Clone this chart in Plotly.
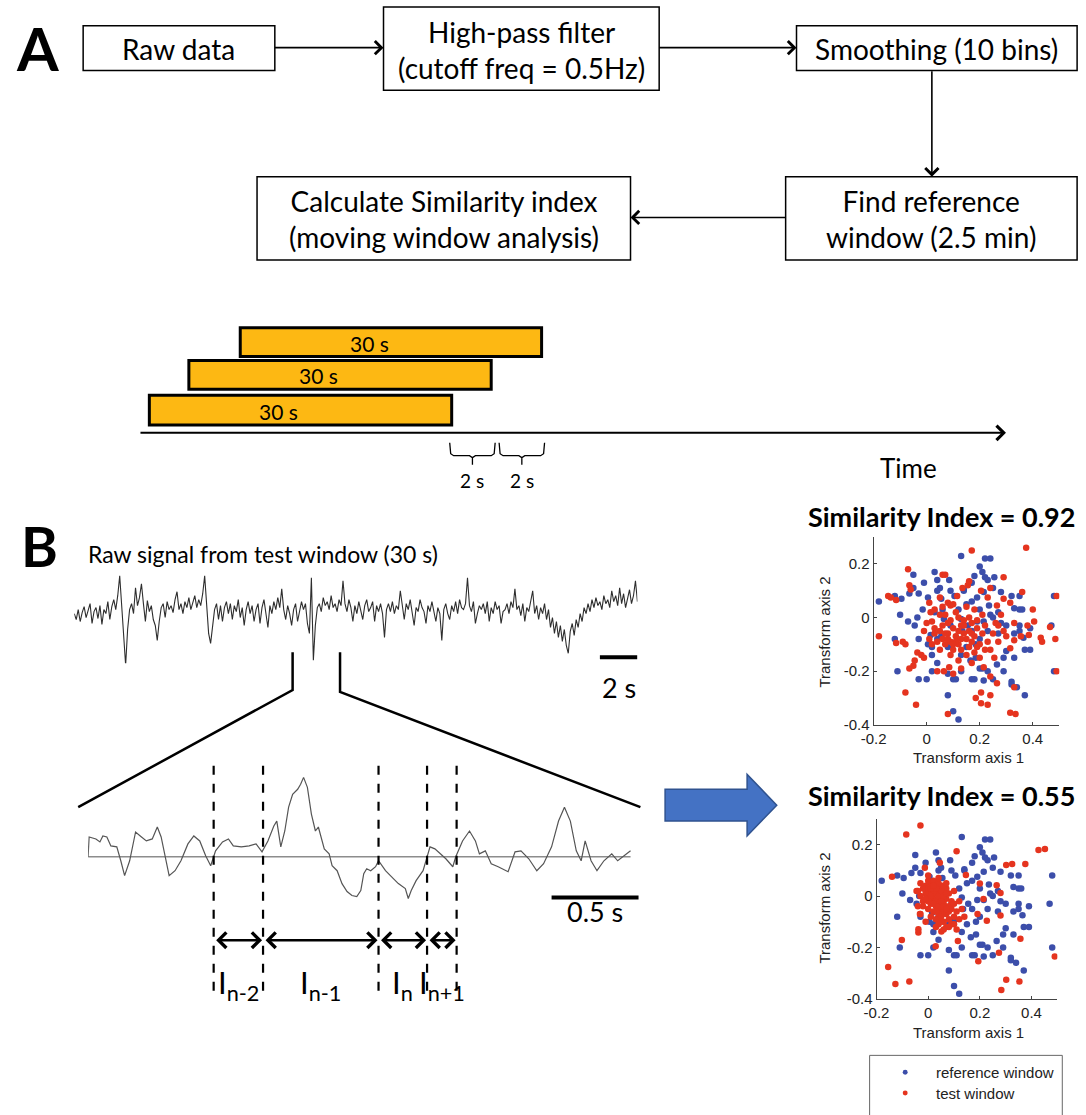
import plotly.graph_objects as go

W, H = 1086, 1115


def PX(x):
    return x / W


def PY(y):
    return 1 - y / H


# ---------------- DATA ----------------
raw_duration_s = 30
raw_signal = [
    2, -4, 6, -6, 3, 9, -2, 5, 12, -8,
    4, 8, -3, 10, -9, 6, 2, 14, -4, 9,
    16, 6, 20, 40, 8, -12, -50, -14, 6, 12,
    2, 28, 10, 18, 32, 12, -6, 15, 4, 10,
    -4, -10, -25, -6, 8, 12, -2, 14, 6, 10,
    3, 16, 24, 6, 12, 2, 14, 8, 18, 6,
    12, 20, 8, 16, 10, 22, 40, 14, -18, -28,
    -8, 6, 12, -4, 10, -6, 8, 14, 2, 12,
    -4, 10, 4, 16, -2, 8, -10, 6, 14, 2,
    10, -6, 6, 12, -8, 8, 16, 4, -12, 10,
    2, 14, 6, 18, 8, 27, 6, -4, 10, 2,
    -10, 6, 12, -6, 4, 14, 6, 12, -8, -18,
    38, -45, -10, 8, 12, 4, 18, 10, 14, 6,
    20, 8, 12, 4, 16, 10, 35, 12, 4, 16,
    8, -6, 10, 2, 14, 6, -4, 10, 16, 4,
    8, 14, -6, 10, 4, 12, 2, -22, 6, 12,
    4, 14, 2, 10, 6, 25, 8, -4, 12, 6,
    16, 2, -10, 8, 4, 16, 8, 4, -8, 10,
    4, 14, 2, -6, 8, 2, -25, 6, 12, 2,
    -4, 10, 4, 14, 2, 16, 8, 6, 12, 38,
    10, 4, 14, -8, 2, 10, 6, 12, 2, 14,
    -6, 8, 2, 14, 6, 10, -8, 4, 6, 12,
    2, 14, 8, 27, 6, 10, 0, 12, -6, 8,
    4, 14, 25, 2, 10, -4, 8, 2, 12, -4,
    6, -12, -2, -18, -6, -22, -10, -26, -14, -30,
    -38, -16, -8, -20, -4, -12, 2, -6, 8, 2,
    12, 4, 16, 8, 18, 10, 14, 6, 20, 12,
    16, 8, 25, 14, 20, 10, 28, 12, 22, 8,
    18, 26, 12, 20, 35, 14,
]

zoom_t = [0.000, 0.006, 0.045, 0.068, 0.085, 0.108, 0.131, 0.165, 0.188, 0.210,
          0.239, 0.273, 0.307, 0.335, 0.369, 0.398, 0.420, 0.443, 0.466, 0.500,
          0.534, 0.574, 0.608, 0.642, 0.676, 0.705, 0.733, 0.773, 0.807, 0.835,
          0.881, 0.926, 0.966, 1.000, 1.034, 1.068, 1.085, 1.108, 1.131, 1.153,
          1.176, 1.205, 1.222, 1.239, 1.261, 1.284, 1.307, 1.324, 1.358, 1.386,
          1.403, 1.432, 1.460, 1.489, 1.517, 1.545, 1.568, 1.585, 1.602, 1.625,
          1.653, 1.670, 1.682, 1.710, 1.744, 1.784, 1.824, 1.841, 1.858, 1.886,
          1.926, 1.943, 1.966, 1.994, 2.028, 2.057, 2.097, 2.114, 2.153, 2.193,
          2.227, 2.250, 2.284, 2.318, 2.358, 2.415, 2.455, 2.489, 2.534, 2.580,
          2.619, 2.665, 2.705, 2.739, 2.773, 2.807, 2.835, 2.858, 2.892, 2.926,
          2.966, 3.011, 3.045, 3.080, 3.119]
zoom_v = [0, 20, 18, 15, 21, 20, 11, 10, -4, -19,
          -4, 25, 20, 16, 18, 30, 20, 1, -19, -14,
          -4, 13, 21, 16, 1, -9, 6, 15, 18, 11,
          10, 11, 13, 5, 16, 31, 36, 10, 26, 50,
          63, 68, 73, 80, 70, 43, 26, 30, 8, 3,
          -9, -14, -27, -35, -39, -40, -34, -17, -12, -14,
          -10, -4, -7, -14, -20, -27, -32, -42, -34, -24,
          -14, -4, 10, 8, 3, -2, -10, 0, 16, 26,
          16, 3, 6, -7, -10, -15, 5, 6, -2, -14,
          -7, 10, 36, 50, 36, 6, -4, 16, -4, -14,
          -4, 3, -4, 1, 6]

boundary_t = [0.722, 1.006, 1.670, 1.949, 2.119]
interval_subs = ["n-2", "n-1", "n", "n+1"]

ref_x = [-0.18, -0.12, -0.10, -0.12, -0.11, -0.05, -0.05, -0.03, -0.03, -0.03, 0.00, 0.03, 0.04, 0.05,
         0.09, 0.13, 0.14, 0.17, 0.21, 0.22, 0.23, 0.22, 0.24, 0.32, 0.35, 0.35, 0.36, 0.27, 0.24, 0.48,
         0.47, 0.39, 0.35, 0.37, 0.39, 0.48, 0.02, 0.04, 0.08, 0.10, 0.12, 0.10, 0.11, 0.17, 0.18, 0.20,
         0.21, 0.29, 0.29, 0.32, 0.32, 0.34, 0.37, 0.25,
         0.03, 0.06, 0.12, 0.15, 0.17, 0.19, 0.20, 0.235, 0.25, 0.28, 0.30, 0.33, 0.27, 0.23, 0.20, 0.185,
         0.15, 0.13, 0.165, 0.185, 0.10, 0.08, 0.055, 0.015, 0.005, 0.02, 0.04, 0.065, 0.09, 0.13, 0.155,
         0.135, -0.045, -0.07, -0.015, -0.035, -0.095, 0.215, 0.25, 0.28, 0.33, 0.35, 0.365, 0.30, 0.33,
         0.265, 0.23, 0.215, 0.13, 0.08, 0.02, 0.19, 0.17, 0.215, 0.105, 0.14, 0.055, 0.005, 0.04, 0.085,
         0.18, 0.20, 0.255, -0.01, -0.065]
ref_y = [0.06, 0.08, 0.01, -0.08, -0.20, 0.16, 0.11, 0.09, -0.08, -0.23, -0.23, 0.17, 0.10, 0.11,
         0.10, 0.23, 0.10, 0.13, 0.17, 0.15, 0.14, 0.22, 0.22, 0.08, 0.08, 0.03, 0.03, 0.02, 0.01, 0.08,
         -0.03, -0.04, -0.05, -0.12, -0.12, -0.20, -0.11, -0.08, -0.29, -0.35, -0.38, -0.23, -0.23, -0.23,
         -0.23, -0.19, -0.19, -0.15, -0.20, -0.24, -0.25, -0.26, -0.29, -0.23,
         0.02, 0.03, 0.03, 0.05, 0.06, 0.075, 0.03, 0.045, 0.0, -0.02, -0.03, -0.06, -0.06, -0.05, -0.08,
         -0.10, -0.11, -0.14, -0.16, -0.15, -0.095, -0.11, -0.07, -0.065, -0.10, -0.14, -0.17, -0.005,
         -0.03, -0.005, -0.03, -0.05, -0.03, -0.015, 0.03, 0.0, 0.07, 0.095, 0.11, 0.095, 0.035, -0.03,
         -0.075, -0.125, -0.15, -0.175, -0.20, -0.235, -0.20, -0.21, -0.20, -0.015, -0.05, -0.015, 0.08,
         0.105, 0.07, 0.075, 0.14, 0.14, 0.155, 0.19, 0.15, 0.13, 0.09]

test1_x = [-0.18, -0.145, -0.135, -0.115, -0.07, -0.065, -0.06, -0.09, -0.08, -0.115, -0.08, -0.04,
           -0.05, -0.065, -0.045, -0.035, -0.02, -0.01, 0.01, 0.015, 0.02, 0.03, 0.06, 0.07, 0.05, 0.08,
           0.09, 0.115, 0.135, 0.155, 0.16, 0.17, 0.205, 0.23, 0.24, 0.265, 0.29, 0.29, 0.315, 0.36,
           0.375, 0.40, 0.405, 0.43, 0.435, 0.465, 0.485, 0.49, 0.49,
           0.04, 0.065, 0.085, 0.10, 0.08, 0.185, 0.205, 0.23, 0.24, 0.205, 0.315, 0.335, 0.33, 0.265,
           0.24, 0.215, 0.255, 0.315, 0.33, 0.355, 0.385, 0.38, 0.29, 0.27, 0.33,
           0.05, 0.06, 0.07, 0.08, 0.09, 0.10, 0.11, 0.12, 0.13, 0.14, 0.15, 0.16, 0.17, 0.18, 0.19, 0.20,
           0.21, 0.10, 0.08, 0.06, 0.04, 0.03, 0.12, 0.14, 0.16, 0.18, 0.15, 0.12, 0.09, 0.05, 0.02, 0.11,
           0.07, 0.13, 0.17, 0.19, 0.22, 0.23, 0.24, 0.20, 0.17, 0.13, 0.21, 0.18, 0.15, 0.10, 0.06, 0.03,
           0.00, -0.01, 0.01, 0.25, 0.27, 0.26, 0.28, 0.30, 0.22, 0.19, 0.11, 0.08, 0.14, 0.16, 0.09, 0.05,
           0.12, 0.17, 0.07, 0.13, 0.10]
test1_y = [-0.07, 0.08, 0.075, 0.065, 0.18, 0.12, 0.105, -0.09, -0.10, -0.095, -0.28, -0.325,
           -0.18, -0.19, -0.16, -0.13, -0.14, -0.15, 0.055, 0.02, -0.015, -0.04, 0.16, 0.16, 0.075, 0.055,
           0.045, 0.08, 0.11, 0.12, 0.135, 0.25, 0.10, 0.075, 0.11, 0.045, 0.15, 0.07, 0.055, 0.095,
           0.26, 0.03, -0.015, -0.075, -0.09, -0.035, -0.08, 0.08, -0.20,
           -0.20, -0.20, -0.185, -0.21, -0.36, -0.30, -0.32, -0.325, -0.29, -0.28, -0.355, -0.36, -0.26,
           -0.245, -0.22, -0.185, -0.15, -0.115, -0.085, -0.07, -0.065, -0.03, -0.05, -0.03, -0.02,
           -0.05, -0.08, -0.10, -0.06, -0.09, -0.04, -0.07, -0.10, -0.03, -0.06, -0.08, -0.05, -0.02, -0.07,
           -0.04, -0.10, -0.06, -0.12, -0.02, -0.03, -0.09, -0.06, 0.00, -0.01, -0.11, -0.13, -0.14, -0.16,
           -0.14, -0.12, -0.10, 0.02, 0.01, -0.12, -0.09, -0.01, -0.03, -0.09, -0.12, -0.15, -0.17, -0.19,
           0.01, 0.03, 0.04, 0.05, 0.04, 0.03, -0.02, -0.05, -0.08, -0.06, -0.09, -0.02, 0.01, -0.07, -0.12,
           -0.11, -0.09, -0.08, -0.03, 0.00, -0.01, 0.01, -0.05, -0.06, -0.06, -0.08, -0.10]

test2_x = [-0.03, -0.085, 0.11, 0.045, -0.013, -0.14, 0.427, 0.452, 0.302, 0.325, 0.376, 0.265, 0.28,
           0.20, 0.146, 0.214, 0.28, 0.227, 0.191, 0.357, 0.49, 0.274, 0.194, 0.302, 0.283, 0.353, 0.115,
           0.029, -0.102, -0.155, -0.127, -0.073, -0.038, -0.038, -0.032, -0.045, 0.051,
           0.00, 0.01, 0.02, 0.03, 0.04, 0.05, 0.06, 0.02, 0.03, 0.04, 0.05, 0.06, 0.07, 0.01, 0.00, -0.01,
           -0.02, 0.03, 0.05, 0.07, 0.08, 0.06, 0.04, 0.02, 0.01, -0.01, 0.00, 0.02, 0.04, 0.08, 0.09, 0.07,
           0.05, 0.03, 0.06, 0.08, 0.10, 0.09, 0.07, 0.04, 0.01, -0.02, -0.03, -0.02, 0.00, 0.02, 0.03, 0.04,
           0.05, 0.06, 0.01, 0.02, 0.03, 0.04, 0.05, 0.06, 0.07, 0.08, 0.09, 0.10, 0.11, 0.10, 0.08, 0.12,
           0.00, -0.01, 0.01, 0.03, 0.05, 0.02, 0.06, 0.07, -0.04, -0.03, 0.00, 0.04, 0.07, 0.10, 0.12, 0.13,
           0.14, 0.11, 0.06, 0.03, -0.01, -0.03, -0.04]
test2_y = [0.275, 0.24, 0.175, 0.13, 0.11, 0.075, 0.18, 0.183, 0.121, 0.125, 0.125, 0.042, 0.012,
           0.049, 0.082, -0.011, -0.076, -0.096, -0.07, -0.166, -0.235, -0.221, -0.254, -0.326, -0.366,
           -0.333, -0.175, -0.195, -0.171, -0.276, -0.342, -0.333, -0.142, -0.129, -0.07, 0.02, -0.138,
           0.00, 0.02, -0.01, 0.01, -0.02, 0.00, -0.03, 0.03, -0.04, 0.03, -0.05, 0.02, -0.01, -0.03, -0.05,
           0.01, -0.02, 0.05, 0.04, 0.03, -0.04, -0.06, -0.07, -0.06, 0.05, 0.04, 0.06, 0.06, 0.05, 0.01,
           -0.02, -0.07, -0.08, -0.09, -0.10, -0.09, -0.08, -0.11, -0.12, -0.11, -0.08, 0.03, 0.00, -0.04,
           0.03, 0.01, -0.02, 0.00, 0.02, 0.00, 0.00, -0.03, 0.03, -0.04, -0.02, 0.04, 0.01, -0.06, -0.05,
           -0.03, -0.06, -0.11, -0.12, -0.09, -0.02, -0.01, 0.03, -0.06, -0.10, 0.04, -0.04, -0.05, 0.02,
           0.05, 0.08, 0.07, 0.05, 0.02, -0.02, -0.05, -0.08, -0.13, -0.13, -0.12, -0.10, -0.07, -0.04]

similarity_index = [0.92, 0.55]
legend_labels = ["reference window", "test window"]
flow_labels = ["Raw data", "High-pass filter<br>(cutoff freq = 0.5Hz)", "Smoothing (10 bins)",
               "Find reference<br>window (2.5 min)", "Calculate Similarity index<br>(moving window analysis)"]
window_labels = ["30 s", "30 s", "30 s"]
step_labels = ["2 s", "2 s"]

# ---------------- STYLE ----------------
FLOW_FONT = "Lato"
AX_FONT = "Liberation Sans"
BLUE = "#3C4EAA"
RED = "#E5341F"
ORANGE = "#FDB813"

fig = go.Figure()

raw_t = [i * raw_duration_s / (len(raw_signal) - 1) for i in range(len(raw_signal))]
fig.add_trace(go.Scatter(x=raw_t, y=raw_signal, mode="lines", line=dict(color="#2e2e2e", width=1.1),
                         xaxis="x", yaxis="y", hoverinfo="skip"))
fig.add_trace(go.Scatter(x=[zoom_t[0], zoom_t[-1]], y=[0, 0], mode="lines",
                         line=dict(color="#8c8c8c", width=1.5), xaxis="x2", yaxis="y2", hoverinfo="skip"))
fig.add_trace(go.Scatter(x=zoom_t, y=zoom_v, mode="lines", line=dict(color="#555555", width=1.2),
                         xaxis="x2", yaxis="y2", hoverinfo="skip"))

for k, (tx, ty) in enumerate([(test1_x, test1_y), (test2_x, test2_y)]):
    xa, ya = ("x3", "y3") if k == 0 else ("x4", "y4")
    fig.add_trace(go.Scatter(x=ref_x, y=ref_y, mode="markers", name=legend_labels[0],
                             marker=dict(color=BLUE, size=6.5), xaxis=xa, yaxis=ya))
    fig.add_trace(go.Scatter(x=tx, y=ty, mode="markers", name=legend_labels[1],
                             marker=dict(color=RED, size=6.5), xaxis=xa, yaxis=ya))

shapes = []
annotations = []


def path_str(pts, close=False):
    s = "M " + " L ".join(f"{PX(x):.5f},{PY(y):.5f}" for x, y in pts)
    return s + (" Z" if close else "")


def text(x, y, s, size, family=FLOW_FONT, xanchor="center", color="black", **kw):
    annotations.append(dict(x=PX(x), y=PY(y), xref="paper", yref="paper", text=s, showarrow=False,
                            xanchor=xanchor, yanchor="middle", font=dict(family=family, size=size, color=color),
                            **kw))


def arrow(x0, y0, x1, y1, width=1.6, head=4, size=1.6):
    annotations.append(dict(x=PX(x1), y=PY(y1), xref="paper", yref="paper", ax=x0 - x1, ay=y0 - y1,
                            axref="pixel", ayref="pixel", showarrow=True, arrowhead=head, arrowsize=size,
                            arrowwidth=width, arrowcolor="black", text=""))


def rect(x0, y0, x1, y1, lw=1.5, fill="white"):
    shapes.append(dict(type="rect", xref="paper", yref="paper", x0=PX(x0), x1=PX(x1), y0=PY(y1), y1=PY(y0),
                       line=dict(color="black", width=lw), fillcolor=fill, layer="below"))


# ---- Panel A: flowchart ----
text(25, 48, "<b>A</b>", 60)
boxes = [(71, 26, 265, 71), (375, 7, 654, 91), (793, 26, 1077, 71), (782, 178, 1077, 262), (247, 178, 625, 262)]
for (x0, y0, x1, y1), lab in zip(boxes, flow_labels):
    rect(x0, y0, x1, y1)
    text((x0 + x1) / 2, (y0 + y1) / 2 + 1, lab, 28)
arrow(265, 48, 375, 48)
arrow(654, 48, 793, 48)
arrow(930, 71, 930, 178)
arrow(782, 219, 625, 219)

# ---- moving windows ----
bars = [(230, 330, 535, 359), (178, 363, 484, 392), (138, 398, 444, 428)]
for (x0, y0, x1, y1), lab in zip(bars, window_labels):
    rect(x0, y0, x1, y1, lw=3, fill=ORANGE)
    text((x0 + x1) / 2 - 22, (y0 + y1) / 2 + 1, lab, 21)
arrow(138, 436, 1005, 436, width=2, head=4, size=1.4)
text(906, 471, "Time", 26)
for (bx0, bx1), lab in zip([(442, 488), (492, 538)], step_labels):
    mid = (bx0 + bx1) / 2
    pts = [(bx0, 446), (bx0 + 1, 457), (bx0 + 4, 459), (mid - 3, 459), (mid, 461), (mid, 468),
           (mid, 461), (mid + 3, 459), (bx1 - 4, 459), (bx1 - 1, 457), (bx1, 446)]
    shapes.append(dict(type="path", xref="paper", yref="paper", path=path_str(pts),
                       line=dict(color="black", width=1.3)))
    text(mid, 484, lab, 19)

# ---- Panel B ----
text(27, 549, "<b>B</b>", 56)
text(74, 558, "Raw signal from test window (30 s)", 23, xanchor="left")
# zoom lines
shapes.append(dict(type="path", xref="paper", yref="paper", path=path_str([(283, 657), (283, 695), (66, 813)]),
                   line=dict(color="black", width=2.5)))
shapes.append(dict(type="path", xref="paper", yref="paper", path=path_str([(331, 657), (331, 697), (635, 813)]),
                   line=dict(color="black", width=2.5)))
# scale bars
shapes.append(dict(type="line", xref="x", yref="paper", x0=28, x1=30, y0=PY(662), y1=PY(662),
                   line=dict(color="black", width=4)))
annotations.append(dict(x=29, y=PY(692), xref="x", yref="paper", text="2 s", showarrow=False,
                        font=dict(family=FLOW_FONT, size=27, color="black")))
shapes.append(dict(type="line", xref="x2", yref="paper", x0=2.665, x1=3.165, y0=PY(904), y1=PY(904),
                   line=dict(color="black", width=4)))
annotations.append(dict(x=2.915, y=PY(937), xref="x2", yref="paper", text="0.5 s", showarrow=False,
                        font=dict(family=FLOW_FONT, size=27, color="black")))
# interval boundaries
for t in boundary_t:
    shapes.append(dict(type="line", xref="x2", yref="paper", x0=t, x1=t, y0=PY(998), y1=PY(765),
                       line=dict(color="black", width=2.2, dash="dash")))
for i, sub in enumerate(interval_subs):
    a, b = boundary_t[i], boundary_t[i + 1]
    annotations.append(dict(x=b, y=PY(947), xref="x2", yref="paper", ax=a, ay=0, axref="x2", ayref="pixel",
                            showarrow=True, arrowhead=4, arrowside="end+start", arrowsize=1.2, arrowwidth=2.5,
                            arrowcolor="black", text="", standoff=1, startstandoff=1))
    annotations.append(dict(x=(a + b) / 2, y=PY(1015), xref="x2", yref="paper",
                            text=f"I<sub>{sub}</sub>", showarrow=False,
                            font=dict(family=FLOW_FONT, size=31, color="black")))

# big blue arrow
shapes.append(dict(type="path", xref="paper", yref="paper",
                   path=path_str([(660, 795), (743, 795), (743, 780), (773, 811), (743, 842), (743, 827), (660, 827)],
                                 close=True),
                   fillcolor="#4472C4", line=dict(color="#2F528F", width=1.5)))

# scatter titles and labels
for k, (ty, ly, lx) in enumerate([(520, 763, 637), (801, 1040, 915)]):
    text(940, ty, f"<b>Similarity Index = {similarity_index[k]:.2f}</b>", 27)
    text(967, ly, "Transform axis 1", 15, family=AX_FONT, color="#222")
    annotations.append(dict(x=PX(821), y=PY(lx), xref="paper", yref="paper", text="Transform axis 2",
                            showarrow=False, textangle=-90, xanchor="center", yanchor="middle",
                            font=dict(family=AX_FONT, size=15, color="#222")))

# legend
shapes.append(dict(type="rect", xref="paper", yref="paper", x0=PX(867), x1=PX(1062), y0=PY(1125), y1=PY(1063),
                   line=dict(color="#666", width=1), fillcolor="white"))
for j, (c, yy) in enumerate([(BLUE, 1080), (RED, 1101)]):
    shapes.append(dict(type="circle", xref="paper", yref="paper", x0=PX(900.5), x1=PX(905.5),
                       y0=PY(yy + 2.5), y1=PY(yy - 2.5), fillcolor=c, line=dict(width=0)))
    text(932, yy, legend_labels[j], 15, family=AX_FONT, xanchor="left", color="#222")

hidden = dict(visible=False, fixedrange=True)
sc_axis = dict(showline=True, linecolor="#444", linewidth=1, ticks="inside", ticklen=3, tickcolor="#444",
               showgrid=False, zeroline=False, tickfont=dict(family=AX_FONT, size=15, color="#222"),
               fixedrange=True)

fig.update_layout(
    width=W, height=H, margin=dict(l=0, r=0, t=0, b=0),
    paper_bgcolor="white", plot_bgcolor="white", showlegend=False,
    xaxis=dict(domain=[PX(62), PX(632)], range=[0, 30], **hidden),
    yaxis=dict(domain=[PY(668), PY(562)], range=[-48, 58], **hidden),
    xaxis2=dict(domain=[PX(76), PX(634)], range=[0, 3.17], **hidden),
    yaxis2=dict(domain=[PY(911), PY(775)], range=[-48, 88], **hidden),
    xaxis3=dict(domain=[PX(871), PX(1059)], range=[-0.2, 0.5], tickvals=[-0.2, 0, 0.2, 0.4],
                ticktext=["-0.2", "0", "0.2", "0.4"], anchor="y3", **sc_axis),
    yaxis3=dict(domain=[PY(730), PY(541)], range=[-0.4, 0.3], tickvals=[-0.4, -0.2, 0, 0.2],
                ticktext=["-0.4", "-0.2", "0", "0.2"], anchor="x3", **sc_axis),
    xaxis4=dict(domain=[PX(874), PX(1057)], range=[-0.2, 0.5], tickvals=[-0.2, 0, 0.2, 0.4],
                ticktext=["-0.2", "0", "0.2", "0.4"], anchor="y4", **sc_axis),
    yaxis4=dict(domain=[PY(1006), PY(825)], range=[-0.4, 0.3], tickvals=[-0.4, -0.2, 0, 0.2],
                ticktext=["-0.4", "-0.2", "0", "0.2"], anchor="x4", **sc_axis),
    shapes=shapes, annotations=annotations,
)

fig.write_html("out.html")
